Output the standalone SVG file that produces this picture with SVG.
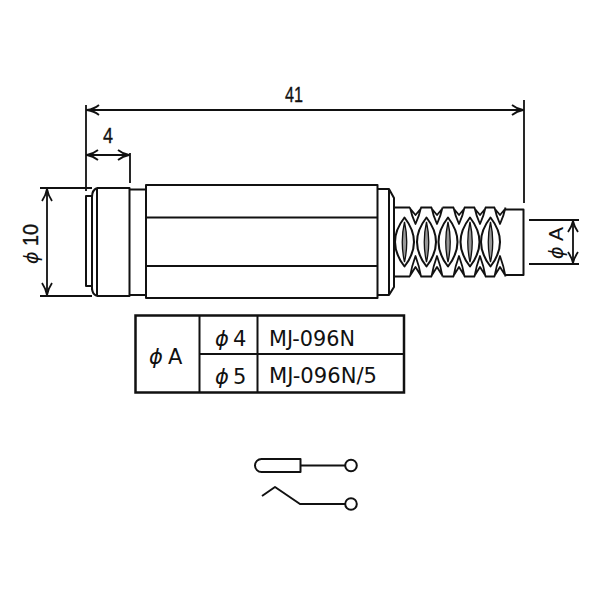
<svg xmlns="http://www.w3.org/2000/svg" xmlns:xlink="http://www.w3.org/1999/xlink" width="600" height="600" viewBox="0 0 600 600">
<style>
.l{fill:none;stroke:#111;stroke-width:2;stroke-linejoin:round}
.t{fill:none;stroke:#111;stroke-width:1.8;stroke-linejoin:round}
.a{fill:none;stroke:#111;stroke-width:1.8}
text{fill:#111;font-family:"DejaVu Sans","Liberation Sans",sans-serif}
.d{font-family:"Liberation Sans",sans-serif;font-size:22px;stroke:#111;stroke-width:.35}
.p{font-style:italic;font-family:"DejaVu Sans",sans-serif}
</style>
<defs>
<g id="lens"><path class="l" d="M0,-24.500Q-19,0 0,24.500Q19,0 0,-24.500Z"/><path d="M0,-20Q-4.500,0 0,20Q4.500,0 0,-20Z" fill="#999" stroke="#111" stroke-width="1.300"/></g>
<g id="leaf"><path class="t" d="M-5.500,207.500Q-4,215 0,224Q4,215 5.500,207.500M-5,209L0,215L5,209"/><path class="t" d="M-5.500,276.500Q-4,267 0,256Q4,267 5.500,276.500M-5,275L0,267L5,275"/></g>
</defs>
<g id="jack">
<path class="l" d="M92,196H86V286H92M92,195V290M97,188V296M97,188H129.500V296H97M97,188Q92,190 92,197M97,296Q92,294 92,288M129.500,189.500H146M129.500,295H146"/>
<rect class="l" x="146" y="185" width="231.500" height="113"/>
<path class="l" d="M146,217.500H377.500M146,266H377.500M377.500,189H389L394,198V287L389,295H377.500M389,189V295"/>
<path class="l" d="M394,207.500H410M394,276.500H410M420.500,207.500H432M420.500,276.500H432M442.500,207.500H454M442.500,276.500H454M464,207.500H475M464,276.500H475M485,207.500H495M485,276.500H495M505,209.500H523.500V275H505"/>
<use xlink:href="#lens" x="404.500" y="242"/><use xlink:href="#lens" x="426.500" y="242"/><use xlink:href="#lens" x="448" y="242"/><use xlink:href="#lens" x="470" y="242"/><use xlink:href="#lens" x="490.500" y="242"/>
<use xlink:href="#leaf" x="415.500"/><use xlink:href="#leaf" x="437"/><use xlink:href="#leaf" x="459"/><use xlink:href="#leaf" x="480"/><use xlink:href="#leaf" x="500"/>
</g>
<g id="connectors">
<path class="t" d="M86,105V191M524,100V203M130,153V183M40,188H92M40,296H92M529,220H579M529,264H579M86,110H524M86,155H130M47,188V296M573,220V264"/>
<path class="a" d="M99,105Q94,109 87,110Q94,111 99,115M512,105Q517,109 523,110Q517,111 512,115M98,150Q93,154 87,155Q93,156 98,160M118,150Q123,154 129,155Q123,156 118,160M42,201Q46,195 47,189Q48,195 52,201M42,283Q46,289 47,295Q48,289 52,283M568,232Q572,226 573,221Q574,226 578,232M568,252Q572,258 573,263Q574,258 578,252"/>
</g>
<g id="dimensions">
<text class="d" x="285" y="102" textLength="18" lengthAdjust="spacingAndGlyphs">41</text>
<text class="d" x="103" y="143" textLength="10" lengthAdjust="spacingAndGlyphs">4</text>
<g transform="translate(38,263) rotate(-90)"><text class="p" font-size="19" x="-1" y="0">ϕ</text><text class="d" x="17" y="0" textLength="22" lengthAdjust="spacingAndGlyphs">10</text></g>
<g transform="translate(563,258) rotate(-90)"><text class="p" font-size="19" x="-1" y="0">ϕ</text><text x="17" y="0" font-size="20" style="font-family:'Liberation Sans'" textLength="14" lengthAdjust="spacingAndGlyphs">A</text></g>
</g>
<g id="table">
<rect x="135.500" y="315.500" width="268.500" height="77" fill="none" stroke="#111" stroke-width="2.500"/>
<path d="M199.500,315.500V392.500M257.500,315.500V392.500M199.500,354H404" fill="none" stroke="#111" stroke-width="2"/>
<g font-size="21">
<text class="p" x="149" y="364">ϕ</text><text x="168" y="364">A</text>
<text class="p" x="215" y="346">ϕ</text><text x="233" y="346">4</text>
<text class="p" x="215" y="384">ϕ</text><text x="233" y="384">5</text>
<text x="269" y="346" textLength="86" lengthAdjust="spacingAndGlyphs">MJ-096N</text>
<text x="269" y="383" textLength="108" lengthAdjust="spacingAndGlyphs">MJ-096N/5</text>
</g>
</g>
<g id="symbol-tip">
<path class="l" d="M300.500,459H261.500A6.500,6.500 0 0 0 261.500,472H300.500ZM300.500,465.500H345"/>
<circle class="l" cx="351" cy="465.500" r="5.800" fill="#fff"/>
</g>
<g id="symbol-switch">
<path class="l" d="M262,496L275,487L300,504H345"/>
<circle class="l" cx="351" cy="504" r="5.800" fill="#fff"/>
</g>
</svg>
